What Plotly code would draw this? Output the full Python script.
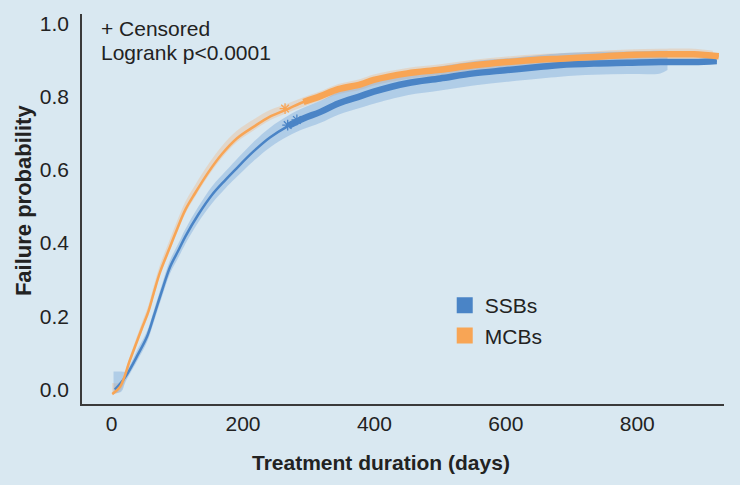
import plotly.graph_objects as go

# ---- data ----
ssb_days = [5, 21, 41, 54, 64, 77, 89, 102, 112, 132, 153, 173, 188, 216, 241, 269, 292, 318, 345, 379, 399, 450, 500, 551, 602, 653, 683, 734, 785, 835, 886, 921]
ssb_prob = [0.0, 0.035, 0.099, 0.145, 0.199, 0.272, 0.335, 0.381, 0.417, 0.478, 0.532, 0.572, 0.600, 0.650, 0.688, 0.720, 0.740, 0.758, 0.781, 0.801, 0.813, 0.836, 0.849, 0.863, 0.872, 0.881, 0.886, 0.890, 0.892, 0.894, 0.894, 0.897]

mcb_days = [1, 13, 28, 46, 56, 64, 74, 87, 97, 112, 127, 148, 168, 191, 216, 241, 267, 292, 318, 345, 379, 399, 450, 500, 551, 602, 653, 683, 734, 785, 835, 886, 924]
mcb_prob = [-0.012, 0.008, 0.081, 0.167, 0.213, 0.263, 0.322, 0.381, 0.426, 0.490, 0.536, 0.595, 0.643, 0.686, 0.717, 0.745, 0.765, 0.785, 0.801, 0.820, 0.833, 0.845, 0.863, 0.873, 0.885, 0.894, 0.901, 0.903, 0.908, 0.913, 0.915, 0.915, 0.910]

ssb_ci_days = [3, 15, 21, 41, 54, 64, 77, 89, 102, 112, 132, 153, 173, 188, 216, 241, 269, 292, 318, 345, 379, 399, 450, 500, 551, 602, 653, 683, 734, 785, 835, 846]
ssb_ci_low = [-0.010, -0.005, 0.020, 0.085, 0.130, 0.183, 0.255, 0.317, 0.362, 0.397, 0.457, 0.509, 0.549, 0.576, 0.624, 0.661, 0.692, 0.711, 0.728, 0.750, 0.769, 0.780, 0.803, 0.816, 0.830, 0.840, 0.849, 0.854, 0.859, 0.861, 0.863, 0.872]
ssb_ci_high = [0.050, 0.050, 0.050, 0.115, 0.160, 0.215, 0.289, 0.353, 0.400, 0.437, 0.499, 0.555, 0.595, 0.624, 0.676, 0.715, 0.748, 0.769, 0.788, 0.812, 0.833, 0.846, 0.869, 0.882, 0.896, 0.904, 0.913, 0.918, 0.921, 0.923, 0.925, 0.925]

mcb_ci_days = [1, 13, 28, 46, 56, 64, 74, 87, 97, 112, 127, 148, 168, 191, 216, 241, 267, 292, 318, 345, 379, 399, 450, 500, 551, 602, 653, 683, 734, 785, 835, 886, 915]
mcb_ci_low = [-0.012, -0.005, 0.072, 0.157, 0.203, 0.253, 0.312, 0.371, 0.416, 0.480, 0.526, 0.585, 0.633, 0.676, 0.707, 0.735, 0.755, 0.772, 0.788, 0.806, 0.818, 0.830, 0.848, 0.858, 0.870, 0.879, 0.886, 0.888, 0.893, 0.898, 0.900, 0.900, 0.898]
mcb_ci_high = [0.018, 0.020, 0.092, 0.182, 0.230, 0.282, 0.342, 0.402, 0.448, 0.512, 0.558, 0.617, 0.665, 0.707, 0.737, 0.763, 0.780, 0.798, 0.814, 0.834, 0.848, 0.860, 0.878, 0.888, 0.900, 0.909, 0.916, 0.918, 0.923, 0.928, 0.930, 0.930, 0.925]

ssb_cens_days = [268, 282]
ssb_cens_prob = [0.722, 0.736]
mcb_cens_days = [264]
mcb_cens_prob = [0.767]

jagged_start = 269  # censor-dense region drawn thicker

x_ticks = [0, 200, 400, 600, 800]
y_ticks = [0.0, 0.2, 0.4, 0.6, 0.8, 1.0]
y_tick_text = ["0.0", "0.2", "0.4", "0.6", "0.8", "1.0"]

BLUE = "#4a84c6"
ORANGE = "#f8a555"
BG = "#d9e8f1"
FONT = "Liberation Sans, Arial, sans-serif"

fig = go.Figure()

def band(days, low, high, fill):
    fig.add_trace(go.Scatter(x=days, y=high, mode="lines", line=dict(width=0, shape="spline"),
                             showlegend=False, hoverinfo="skip"))
    fig.add_trace(go.Scatter(x=days, y=low, mode="lines", line=dict(width=0, shape="spline"),
                             fill="tonexty", fillcolor=fill, showlegend=False, hoverinfo="skip"))

band(mcb_ci_days, mcb_ci_low, mcb_ci_high, "rgba(248,170,100,0.28)")
band(ssb_ci_days, ssb_ci_low, ssb_ci_high, "rgba(110,160,215,0.38)")

def curve(days, prob, color, cd, cp):
    fig.add_trace(go.Scatter(x=days, y=prob, mode="lines",
                             line=dict(color=color, width=2.5, shape="spline"),
                             showlegend=False))
    jd = [d for d in days if d >= jagged_start]
    jp = [p for d, p in zip(days, prob) if d >= jagged_start]
    fig.add_trace(go.Scatter(x=jd, y=jp, mode="lines",
                             line=dict(color=color, width=6.5, shape="spline"),
                             showlegend=False))
    fig.add_trace(go.Scatter(x=cd, y=cp, mode="markers",
                             marker=dict(symbol="asterisk-open", size=9, color=color,
                                         line=dict(color=color, width=1.3)),
                             showlegend=False))

curve(ssb_days, ssb_prob, BLUE, ssb_cens_days, ssb_cens_prob)
curve(mcb_days, mcb_prob, ORANGE, mcb_cens_days, mcb_cens_prob)

for name, color in [("SSBs", BLUE), ("MCBs", ORANGE)]:
    fig.add_trace(go.Scatter(x=[None], y=[None], mode="markers", name=name, legendgroup=name,
                             marker=dict(symbol="square", size=16, color=color)))

fig.update_layout(
    width=740, height=485,
    margin=dict(l=82, r=16, t=14, b=81),
    paper_bgcolor=BG, plot_bgcolor=BG,
    font=dict(family=FONT, size=21, color="#222222"),
    showlegend=True,
    legend=dict(x=0.565, y=0.305, xanchor="left", yanchor="top", bgcolor="rgba(0,0,0,0)",
                font=dict(size=21, color="#222222"), traceorder="grouped", tracegroupgap=0),
    xaxis=dict(range=[-45, 932], tickvals=x_ticks, showgrid=False, zeroline=False,
               showline=True, linecolor="#3a3a3a", linewidth=1.6, ticks="",
               ticklabelstandoff=0),
    yaxis=dict(range=[-0.039, 1.025], tickvals=y_ticks, ticktext=y_tick_text, showgrid=False,
               zeroline=False, showline=True, linecolor="#3a3a3a", linewidth=1.6, ticks="",
               ticklabelstandoff=7),
    annotations=[
        dict(text="+ Censored", xref="paper", yref="paper", x=0.0265, y=0.963,
             xanchor="left", yanchor="middle", showarrow=False),
        dict(text="Logrank p<0.0001", xref="paper", yref="paper", x=0.0265, y=0.90,
             xanchor="left", yanchor="middle", showarrow=False),
        dict(text="<b>Treatment duration (days)</b>", xref="paper", yref="paper",
             x=0.4657, y=-0.151, xanchor="center", yanchor="middle", showarrow=False,
             font=dict(size=21)),
        dict(text="<b>Failure probability</b>", xref="paper", yref="paper",
             x=-0.0918, y=0.5205, xanchor="center", yanchor="middle", showarrow=False,
             textangle=-90, font=dict(size=22)),
    ],
)

fig.write_html("out.html", config={"displayModeBar": False},
               post_script="document.body.style.margin='0';")
